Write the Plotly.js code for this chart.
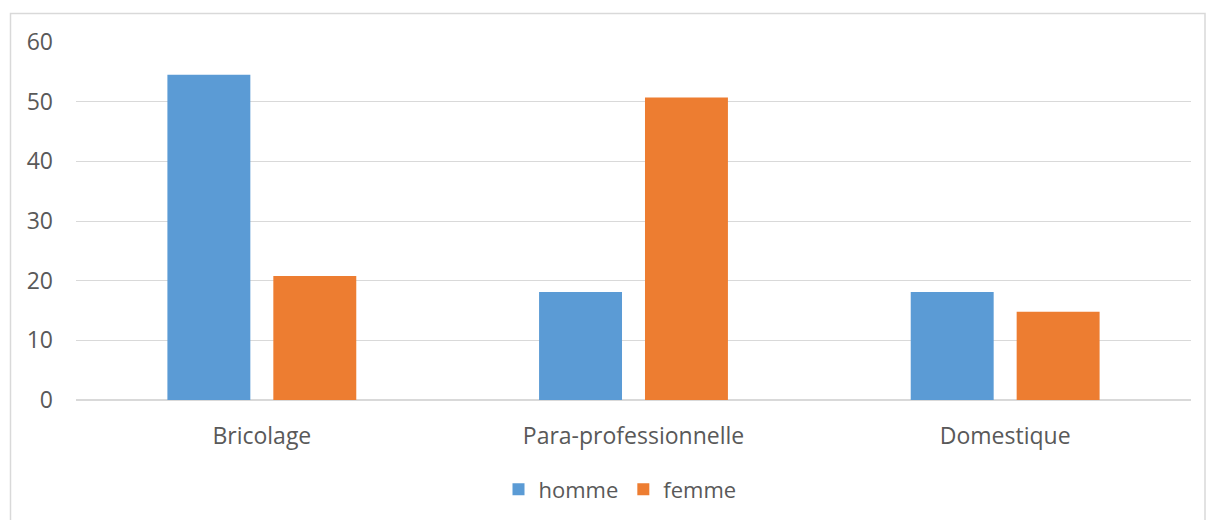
<!DOCTYPE html>
<html>
<head>
<meta charset="utf-8">
<script src="https://cdn.plot.ly/plotly-3.0.1.min.js"></script>
<style>html,body{margin:0;padding:0;background:#fff;}#chart{width:1206px;height:520px;}</style>
</head>
<body>
<div id="chart"></div>
<script>
const categories = ["Bricolage", "Para-professionnelle", "Domestique"];
const homme = [54.5, 18.1, 18.1];
const femme = [20.8, 50.7, 14.8];
const yTicks = [0, 10, 20, 30, 40, 50, 60];

const W = 1206, H = 520;
const L = 76, R = 15, T = 42, B = 119.5;
const pw = W - L - R, ph = H - T - B;
const px = x => (x - L) / pw;
const py = y => (H - B - y) / ph;

const font = "'Open Sans', Roboto, sans-serif";
const traces = [
  {type: "bar", name: "homme", x: categories, y: homme, marker: {color: "#5b9bd5"}},
  {type: "bar", name: "femme", x: categories, y: femme, marker: {color: "#ed7d31"}}
];
const layout = {
  width: W, height: H,
  margin: {l: L, r: R, t: T, b: B, autoexpand: false},
  paper_bgcolor: "#fff", plot_bgcolor: "#fff",
  font: {family: font, size: 22, color: "#595959"},
  barmode: "group", bargap: 0.43, bargroupgap: 0.217,
  showlegend: true,
  legend: {orientation: "h", x: px(620), xanchor: "center", y: py(490), yanchor: "middle",
           font: {family: font, size: 22, color: "#595959"}, itemwidth: 30, tracegroupgap: 0},
  xaxis: {showgrid: false, showline: false, zeroline: false, ticks: "", ticklabelstandoff: 20, automargin: false,
          tickfont: {family: font, size: 23, color: "#595959"}, fixedrange: true},
  yaxis: {range: [0, 60], tickvals: yTicks, showgrid: true, gridcolor: "#d9d9d9", gridwidth: 1, automargin: false,
          zeroline: true, zerolinecolor: "#d9d9d9", zerolinewidth: 1.5, showline: false, ticks: "",
          ticklabelstandoff: 22, tickfont: {family: font, size: 23, color: "#595959"}, fixedrange: true},
  shapes: [{type: "rect", xref: "paper", yref: "paper", x0: px(10.5), x1: px(1205), y0: py(530), y1: py(13.5),
            line: {color: "#d9d9d9", width: 1.5}, fillcolor: "rgba(0,0,0,0)", layer: "below"}]
};
Plotly.newPlot("chart", traces, layout, {displayModeBar: false, staticPlot: true});
</script>
</body>
</html>
